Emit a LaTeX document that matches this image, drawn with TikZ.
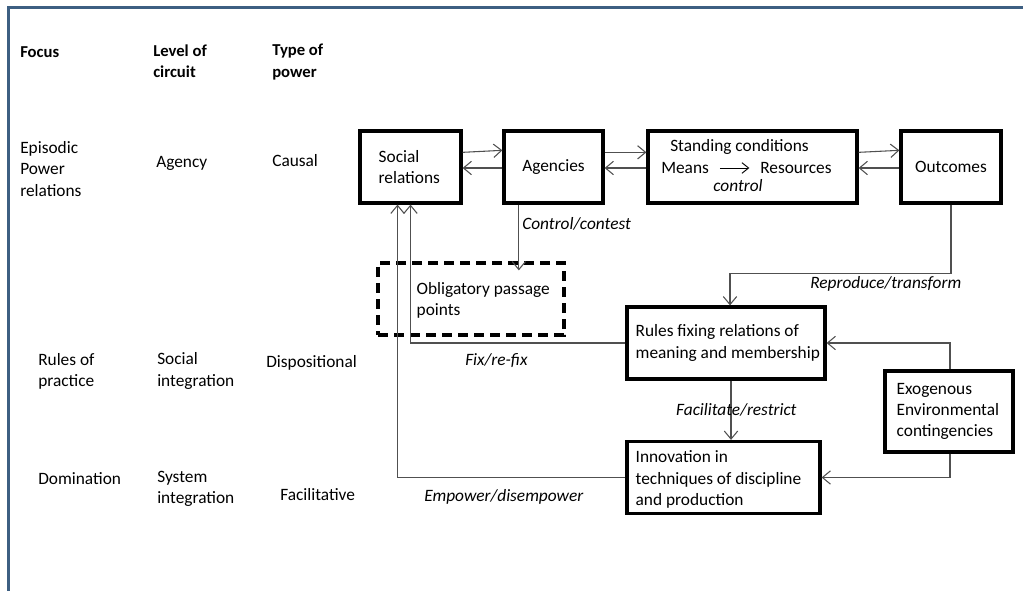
\documentclass[tikz,border=0pt]{standalone}
\usepackage{fontspec}
\setmainfont{Carlito}
\usetikzlibrary{arrows.meta,positioning,calc}
\definecolor{framblue}{HTML}{3D5F82}
\definecolor{lngray}{HTML}{505050}

\begin{document}
\begin{tikzpicture}[
    x=0.75pt,
    y=-0.75pt,
    font=\fontsize{13}{15.9}\selectfont,
    txt/.style={anchor=west, align=left, inner sep=0pt},
    lbl/.style={txt, font=\fontsize{13}{15.9}\selectfont\itshape},
    head/.style={txt, font=\fontsize{12.5}{15.9}\selectfont\bfseries},
    box/.style={rectangle, draw=black, line width=2.4pt, inner sep=0pt, minimum height=54pt},
    obpbox/.style={rectangle, draw=black, line width=2.4pt, dash pattern=on 7.5pt off 4.5pt, inner sep=0pt},
    arr/.style={-{Straight Barb[length=6pt,width=10pt]}, line width=0.8pt, draw=lngray}
  ]
    \useasboundingbox (0,0) rectangle (1023,591);
    \draw[framblue, line width=2.25pt] (1023,8) -- (8,8) -- (8,591);

    % column heads
    \node[head] (hfocus) at (20,52) {Focus};
    \node[head] (hlevel) at (153,61) {Level of\\circuit};
    \node[head] (htype) at (272,62) {Type of\\power};

    % rows
    \node[txt] (focA) at (20,169) {Episodic\\Power\\relations};
    \node[txt] (levA) at (156,163) {Agency};
    \node[txt] (typA) at (272,161) {Causal};
    \node[txt] (focB) at (38,371) {Rules of\\practice};
    \node[txt] (levB) at (157,371) {Social\\integration};
    \node[txt] (typB) at (266,363) {Dispositional};
    \node[txt] (focC) at (38,479) {Domination};
    \node[txt] (levC) at (157,489) {System\\integration};
    \node[txt] (typC) at (280,495) {Facilitative};

    % boxes
    \node[box, minimum width=75.75pt] (soc) at (410.5,167) {};
    \node[txt] (socT) at ([xshift=15pt]soc.west) {Social\\relations};
    \node[box, minimum width=74.25pt] (agen) at (553.5,167) {Agencies};
    \node[box, minimum width=156.75pt] (stand) at (752.5,167) {};
    \node[txt] (standT) at (670,147) {Standing conditions};
    \node[txt] (means) at (661,168) {Means};
    \node[txt] (res) at (760,168) {Resources};
    \node[lbl, anchor=center] (ctrl) at (738,186) {control};
    \node[box, minimum width=75pt] (out) at (951,167) {Outcomes};
    \node[obpbox, minimum width=139.5pt, minimum height=54pt] (opp) at (471,299) {};
    \node[txt] (oppT) at ([xshift=30pt,yshift=-0.75pt]opp.west) {Obligatory passage\\points};
    \node[box, minimum width=148.5pt] (rules) at (726,343) {};
    \node[txt] (rulesT) at ([xshift=7.5pt]rules.west) {Rules fixing relations of\\meaning and membership};
    \node[box, minimum width=144.75pt] (innov) at (723.5,477.5) {};
    \node[txt] (innovT) at ([xshift=7.5pt,yshift=-1.5pt]innov.west) {Innovation in\\techniques of discipline\\and production};
    \node[box, minimum width=96pt, minimum height=60.75pt] (exo) at (949,411.5) {};
    \node[txt] (exoT) at ([xshift=9.75pt]exo.west) {Exogenous\\Environmental\\contingencies};

    % top row links
    \draw[arr] ([yshift=11pt]soc.east) -- ([yshift=12.5pt]agen.west);
    \draw[arr] ([yshift=-0.75pt]agen.west) -- ([yshift=-0.75pt]soc.east);
    \draw[arr] ([yshift=11pt]agen.east) -- ([yshift=11pt]stand.west);
    \draw[arr] ([yshift=-0.75pt]stand.west) -- ([yshift=-0.75pt]agen.east);
    \draw[arr] ([yshift=11pt]stand.east) -- ([yshift=12.5pt]out.west);
    \draw[arr] ([yshift=-0.75pt]out.west) -- ([yshift=-0.75pt]stand.east);
    \draw[-{Straight Barb[length=5pt,width=8pt]}, line width=0.7pt, shorten <=8pt, shorten >=8pt] (means) -- (res);

    % control/contest
    \draw[arr] ([xshift=-26pt]agen.south) -- ([xshift=-26pt,yshift=-6.75pt]agen.south |- opp.north);
    \node[lbl] (ctlbl) at (522,224) {Control/contest};

    % reproduce/transform
    \draw[arr] (out.south) -- ++(0,69) -| ([xshift=3pt]rules.north);
    \node[lbl] (replbl) at (810,284) {Reproduce/transform};

    % fix/re-fix and empower
    \draw[arr] (rules.west) -| (soc.south);
    \node[lbl] (fixlbl) at (465,361) {Fix/re-fix};
    \draw[arr] (innov.west) -| ([xshift=-9.75pt]soc.south);
    \node[lbl] (emplbl) at (424,497) {Empower/disempower};

    % facilitate/restrict
    \draw[arr] ([xshift=3.75pt]rules.south) -- ([xshift=3.75pt]rules.south |- innov.north)
      node[lbl, anchor=center, midway, xshift=4pt] (faclbl) {Facilitate/restrict};

    % exogenous
    \draw[arr] ([xshift=0.75pt]exo.north) |- (rules.east);
    \draw[arr] ([xshift=0.75pt]exo.south) |- (innov.east);
  \end{tikzpicture}
\end{document}
